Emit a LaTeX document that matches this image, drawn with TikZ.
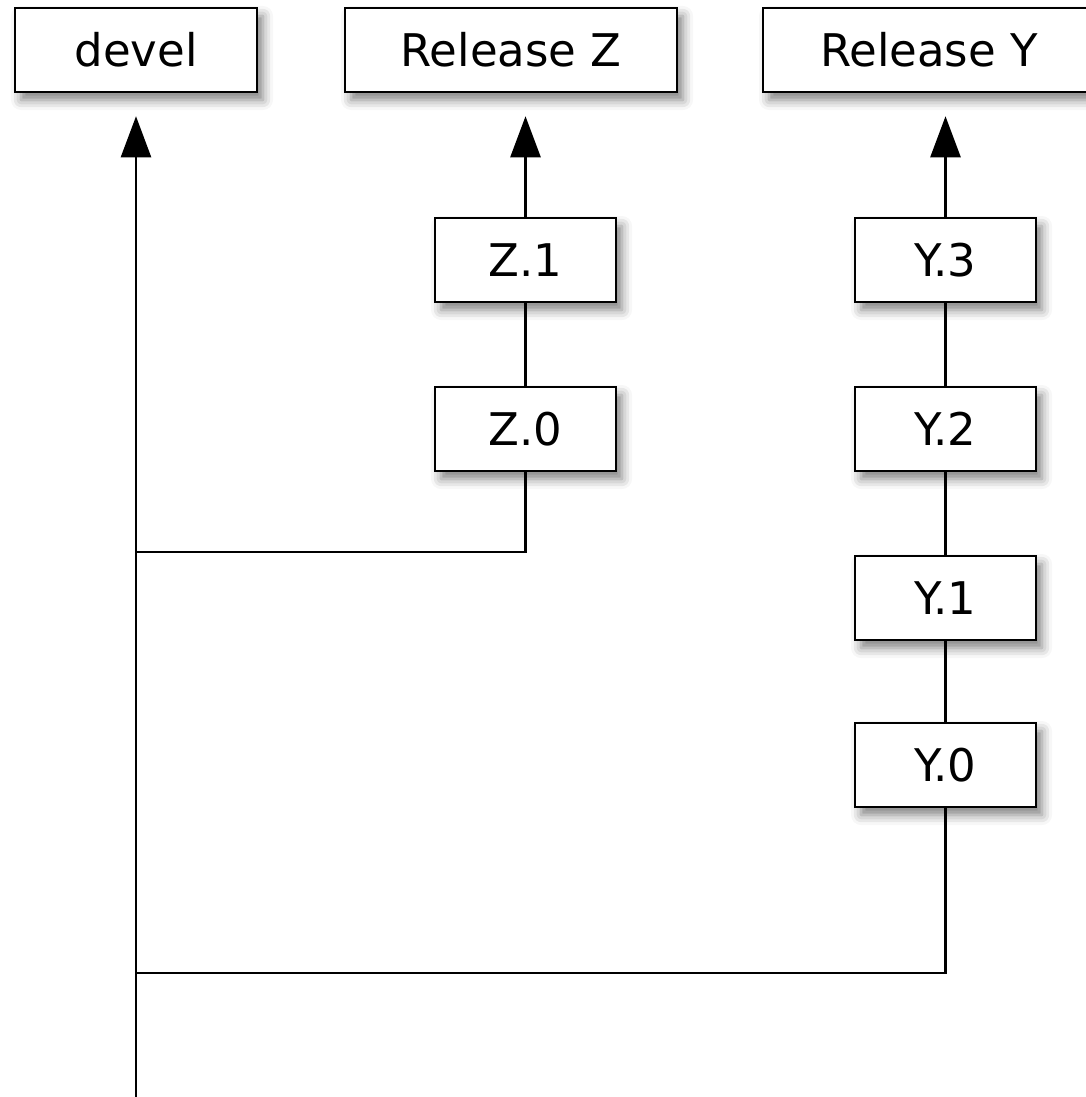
\documentclass[tikz,border=0pt]{standalone}
\usepackage{fontspec}
\setmainfont{DejaVu Sans}
\usetikzlibrary{arrows.meta,shadows.blur}
\begin{document}
\begin{tikzpicture}[x=1pt,y=-1pt,
  box/.style={draw=black, line width=2.5pt, fill=white, inner sep=0pt,
    minimum height=84pt, font=\fontsize{45}{50}\selectfont,
    blur shadow={shadow xshift=6pt, shadow yshift=-8pt, shadow blur radius=10pt, shadow opacity=50}},
  bigbox/.style={box, minimum width=332pt},
  smallbox/.style={box, minimum width=181pt},
  conn/.style={draw=black, line width=2.5pt},
  arr/.style={conn, -{Triangle[length=41pt,width=30pt]}, shorten >=23pt}]
\useasboundingbox (0,0) rectangle (1085,1097);
\node[box, minimum width=242pt] (devel) at (136,50) {devel};
\node[bigbox] (RZ) at (511,50) {Release Z};
\node[bigbox] (RY) at (929,50) {Release Y};
\node[smallbox] (Z1) at (525.5,260) {Z.1};
\node[smallbox] (Z0) at (525.5,429) {Z.0};
\node[smallbox] (Y3) at (945.5,260) {Y.3};
\node[smallbox] (Y2) at (945.5,429) {Y.2};
\node[smallbox] (Y1) at (945.5,598) {Y.1};
\node[smallbox] (Y0) at (945.5,765) {Y.0};
\coordinate (bot) at (136,1100);
\coordinate (j1) at (136,552);
\coordinate (j2) at (136,973);
\draw[arr] (bot) -- (devel.south);
\draw[arr] (Z1.north) -- (Z1.north |- RZ.south);
\draw[arr] (Y3.north) -- (Y3.north |- RY.south);
\draw[conn] (Z1.south) -- (Z0.north);
\draw[conn] (Y3.south) -- (Y2.north);
\draw[conn] (Y2.south) -- (Y1.north);
\draw[conn] (Y1.south) -- (Y0.north);
\draw[conn] (Z0.south) |- (j1);
\draw[conn] (Y0.south) |- (j2);
\end{tikzpicture}
\end{document}
